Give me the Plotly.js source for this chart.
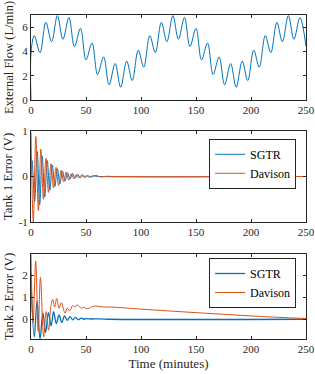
<!DOCTYPE html>
<html>
<head>
<meta charset="utf-8">
<script src="https://cdn.plot.ly/plotly-3.0.1.min.js"></script>
<style>html,body{margin:0;padding:0;background:#fff}#chart{width:315px;height:374px}</style>
</head>
<body>
<div id="chart"></div>
<script>
// External flow (L/min): extrema
const flowT = [0, 0.1, 3, 8.2, 13.5, 18.7, 24, 29, 34.5, 39.5, 45, 50, 55.5, 60.5, 66, 71, 76.5, 81.5, 87, 92, 97.5, 102.5, 108, 113, 118.5, 123.5, 129, 134, 139.5, 144.5, 150, 155, 160.5, 165.5, 171, 176, 181.5, 186.5, 192, 197, 202.5, 207.5, 213, 218, 223.5, 228.5, 234, 239, 244.5, 250];
const flowV = [0, 4.0, 5.3, 3.9, 6.4, 4.8, 6.95, 5.0, 6.8, 4.4, 5.9, 3.3, 4.7, 2.1, 3.55, 1.25, 3.0, 1.05, 3.2, 1.6, 4.1, 2.7, 5.3, 3.9, 6.4, 4.8, 6.95, 5.0, 6.8, 4.4, 5.9, 3.3, 4.7, 2.1, 3.55, 1.25, 3.0, 1.05, 3.2, 1.6, 4.1, 2.7, 5.3, 3.9, 6.4, 4.8, 6.95, 5.0, 6.8, 4.4];

// Tank 1 error (V)
const t1SgtrT = [0, 1.0, 3.3, 5.6, 7.9, 10.2, 12.5, 14.8, 17.1, 19.4, 21.7, 24, 26.3, 28.6, 30.9, 33.2, 35.5, 37.8, 40.1, 42.4, 44.7, 47, 49.3, 51.6, 54, 57, 62, 250];
const t1SgtrV = [0, 0.35, -0.55, 0.55, -0.62, 0.45, -0.45, 0.35, -0.3, 0.25, -0.22, 0.17, -0.16, 0.12, -0.1, 0.08, -0.06, 0.07, -0.04, 0.05, -0.03, 0.035, -0.02, 0.02, -0.01, 0.01, 0, 0];
const t1DavT = [0, 2.1, 4.4, 6.7, 9.0, 11.3, 13.6, 15.9, 18.2, 20.5, 22.8, 25.1, 27.4, 29.7, 32, 34.3, 36.6, 38.9, 41.2, 43.5, 45.8, 48.1, 50.4, 53, 56, 60, 63, 68, 75, 250];
const t1DavV = [0.97, -1.0, 0.88, -0.75, 0.6, -0.5, 0.4, -0.35, 0.28, -0.25, 0.2, -0.2, 0.14, -0.12, 0.1, -0.08, 0.06, -0.05, 0.04, -0.03, 0.03, -0.02, 0.02, -0.015, 0.015, 0.02, -0.01, 0.005, 0, 0];

// Tank 2 error (V)
const t2SgtrT = [0, 3.0, 5.5, 8.2, 10.8, 13.3, 15.8, 18.3, 20.5, 23, 25.5, 28, 30.5, 33, 35.5, 38, 40.5, 43, 45.5, 48, 50.5, 55, 60, 70, 250];
const t2SgtrV = [1.7, -0.8, 0.85, -0.9, 0.3, -0.6, 0.3, -0.3, 0.35, -0.2, 0.2, -0.15, 0.15, -0.05, 0.12, -0.03, 0.08, -0.02, 0.05, 0, 0.03, 0.01, 0.02, 0, 0];
const t2DavT = [0, 1.9, 4.3, 6.5, 8.6, 11.5, 13.8, 16, 18, 19.7, 21.5, 23.3, 25.5, 27.5, 31, 33, 35, 38, 40, 42, 46, 48, 51, 55, 58, 65, 75, 100, 150, 200, 250];
const t2DavV = [2.95, -0.15, 2.65, -0.55, 1.9, -0.8, 0.35, -0.5, 0.55, 0.9, 0.55, 0.95, 0.5, 0.75, 0.28, 0.5, 0.38, 0.62, 0.55, 0.65, 0.5, 0.55, 0.48, 0.55, 0.6, 0.56, 0.55, 0.46, 0.3, 0.15, 0.03];

const xTicks = [0, 50, 100, 150, 200, 250];
const flowTicks = [0, 2, 4, 6];
const t1Ticks = [-1, 0, 1];
const t2Ticks = [0, 1, 2];
const seriesNames = ['SGTR', 'Davison'];

const BLUE = '#0072BD', ORANGE = '#D95319', AX = '#262626';
const FONT = '"Liberation Serif", "Times New Roman", serif';

const traces = [
  {x: flowT, y: flowV, xaxis: 'x', yaxis: 'y', mode: 'lines', line: {color: BLUE, width: 1, shape: 'spline', smoothing: 1}, showlegend: false},
  {x: t1SgtrT, y: t1SgtrV, xaxis: 'x2', yaxis: 'y2', mode: 'lines', name: seriesNames[0], legend: 'legend', line: {color: BLUE, width: 1, shape: 'spline', smoothing: 1}},
  {x: t1DavT, y: t1DavV, xaxis: 'x2', yaxis: 'y2', mode: 'lines', name: seriesNames[1], legend: 'legend', line: {color: ORANGE, width: 1, shape: 'spline', smoothing: 1}},
  {x: t2SgtrT, y: t2SgtrV, xaxis: 'x3', yaxis: 'y3', mode: 'lines', name: seriesNames[0], legend: 'legend2', line: {color: BLUE, width: 1.3, shape: 'spline', smoothing: 1}},
  {x: t2DavT, y: t2DavV, xaxis: 'x3', yaxis: 'y3', mode: 'lines', name: seriesNames[1], legend: 'legend2', line: {color: ORANGE, width: 1, shape: 'spline', smoothing: 1}}
];

function xa(anchor) {
  return {anchor: anchor, range: [0, 250], tickvals: xTicks, ticktext: xTicks.map(String), ticks: 'inside', ticklen: 3, tickcolor: AX,
    showline: true, linecolor: AX, linewidth: 1, mirror: 'ticks', showgrid: false, zeroline: false, ticklabeloverflow: 'allow',
    tickfont: {family: FONT, size: 11, color: AX}};
}
function ya(anchor, dom, rng, tv, title, tsize) {
  return {anchor: anchor, domain: dom, range: rng, tickvals: tv, ticktext: tv.map(String), ticks: 'inside', ticklen: 3, tickcolor: AX,
    showline: true, linecolor: AX, linewidth: 1, mirror: 'ticks', showgrid: false, zeroline: false,
    tickfont: {family: FONT, size: 11, color: AX},
    title: {text: title, font: {family: FONT, size: tsize, color: AX}, standoff: 5}};
}
const legendBase = {xanchor: 'right', yanchor: 'top', x: 0.964, bgcolor: '#ffffff', bordercolor: AX, borderwidth: 1,
  font: {family: FONT, size: 12, color: '#000'}, tracegroupgap: 0};

const layout = {
  width: 315, height: 374,
  margin: {l: 31, r: 9, t: 15, b: 35},
  paper_bgcolor: '#ffffff', plot_bgcolor: '#ffffff',
  font: {family: FONT, color: AX},
  xaxis: xa('y'),
  yaxis: ya('x', [0.7377, 1], [0, 7], flowTicks, 'External Flow (L/min)', 12.5),
  xaxis2: xa('y2'),
  yaxis2: ya('x2', [0.361, 0.642], [-1, 1], t1Ticks, 'Tank 1 Error (V)', 13),
  xaxis3: Object.assign(xa('y3'), {title: {text: 'Time (minutes)', font: {family: FONT, size: 13, color: AX}, standoff: 4}}),
  yaxis3: ya('x3', [0, 0.2623], [-0.9, 2.97], t2Ticks, 'Tank 2 Error (V)', 13),
  legend: Object.assign({}, legendBase, {y: 0.618}),
  legend2: Object.assign({}, legendBase, {y: 0.25}),
  showlegend: true
};

Plotly.newPlot('chart', traces, layout, {staticPlot: true, displayModeBar: false});
</script>
</body>
</html>
